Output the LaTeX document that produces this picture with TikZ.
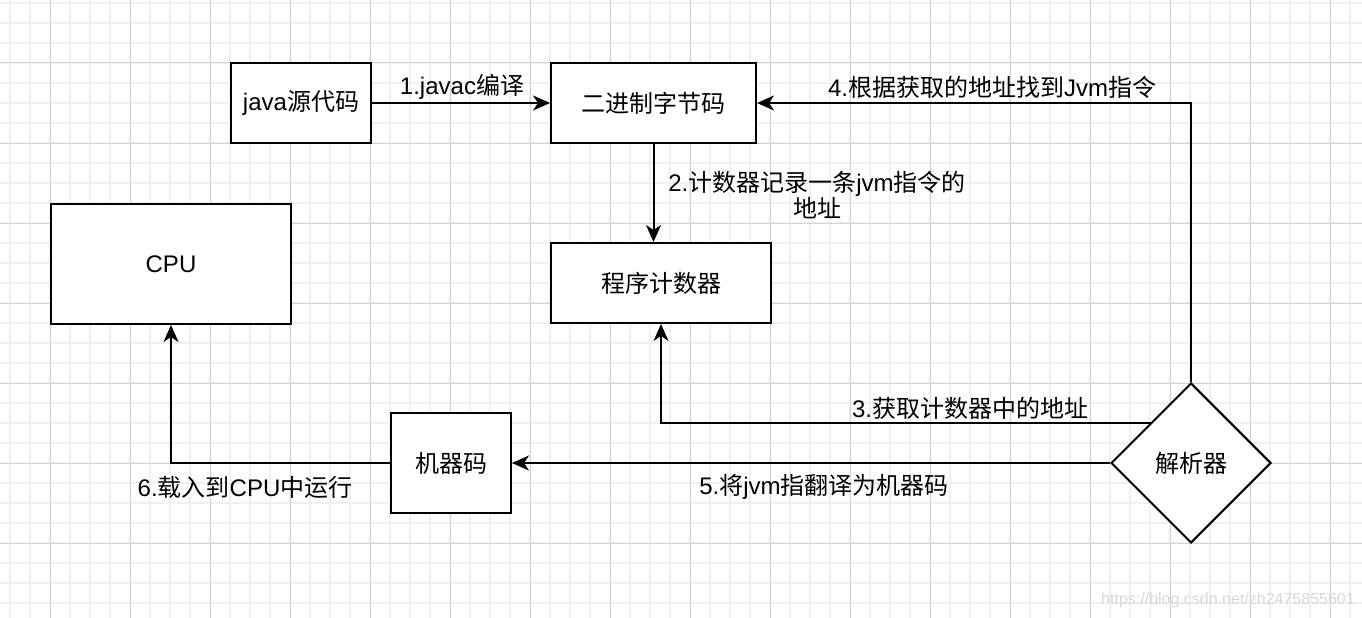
\documentclass[tikz,border=0pt]{standalone}
\usepackage{fontspec}
\setmainfont{Liberation Sans}
\newfontfamily\cjk{Noto Sans CJK SC}
\usetikzlibrary{arrows.meta,shapes.geometric,calc}
\definecolor{gridminor}{RGB}{240,240,240}
\definecolor{gridmajor}{RGB}{212,212,212}
\definecolor{wmark}{RGB}{215,215,215}
\begin{document}
\begin{tikzpicture}[x=1pt,y=-1pt,
  txt/.style={font=\fontsize{24}{27}\selectfont, inner sep=0pt},
  box/.style={draw=black, line width=2pt, fill=white, inner sep=0pt, font=\fontsize{24}{27}\selectfont},
  dia/.style={draw=black, line width=2pt, fill=white, diamond, inner sep=0pt, font=\fontsize{24}{27}\selectfont},
  conn/.style={draw=black, line width=2pt, -{Stealth[length=17pt,width=15pt,inset=5pt]}},
  lbl/.style={font=\fontsize{24}{26}\selectfont, inner sep=0pt, align=center}
]
\useasboundingbox (0,0) rectangle (1362,618);
\fill[white] (0,0) rectangle (1362,618);
% grid
\foreach \i in {0,...,67} {\draw[gridminor, line width=1.5pt] (10+20*\i,0) -- (10+20*\i,618);}
\foreach \j in {0,...,30} {\draw[gridminor, line width=1.5pt] (0,3+20*\j) -- (1362,3+20*\j);}
\foreach \i in {0,...,16} {\draw[gridmajor, line width=1pt] (50+80*\i,0) -- (50+80*\i,618);}
\foreach \j in {0,...,7} {\draw[gridmajor, line width=1pt] (0,63+80*\j) -- (1362,63+80*\j);}

% nodes
\node[box, minimum width=140pt, minimum height=80pt] (java) at (301,103) {java{\cjk 源代码}};
\node[box, minimum width=205pt, minimum height=80pt] (bin) at (653.5,103) {\cjk 二进制字节码};
\node[box, minimum width=220pt, minimum height=80pt] (pc) at (661,283) {\cjk 程序计数器};
\node[box, minimum width=240pt, minimum height=120pt] (cpu) at (171,264) {CPU};
\node[box, minimum width=120pt, minimum height=100pt] (mc) at (451,463) {\cjk 机器码};
\node[dia, minimum width=160pt, minimum height=160pt] (parser) at (1191,463) {\cjk 解析器};
\coordinate (p3) at ($(parser.north)!0.5!(parser.west)$);

% connectors
\draw[conn] (java.east) -- (bin.west);
\draw[conn] (bin.south) -- (bin.south |- pc.north);
\draw[conn] (p3) -| (pc.south);
\draw[conn] (parser.north) |- (bin.east);
\draw[conn] (parser.west) -- (mc.east);
\draw[conn] (mc.west) -| (cpu.south);

% labels
\node[lbl] (l1) at (462,87) {1.javac{\cjk 编译}};
\node[lbl] (l2) at (817,195) {2.{\cjk 计数器记录一条}jvm{\cjk 指令的}\\{\cjk 地址}};
\node[lbl] (l3) at (970,408) {3.{\cjk 获取计数器中的地址}};
\node[lbl] (l4) at (992,87) {4.{\cjk 根据获取的地址找到}Jvm{\cjk 指令}};
\node[lbl] (l5) at (824,487) {5.{\cjk 将}jvm{\cjk 指翻译为机器码}};
\node[lbl] (l6) at (245,487) {6.{\cjk 载入到}CPU{\cjk 中运行}};

% watermark
\node[font=\fontsize{16}{18}\selectfont, text=wmark, inner sep=0pt] (wm) at (1228,600) {https://blog.csdn.net/zh2475855601};
\end{tikzpicture}
\end{document}
